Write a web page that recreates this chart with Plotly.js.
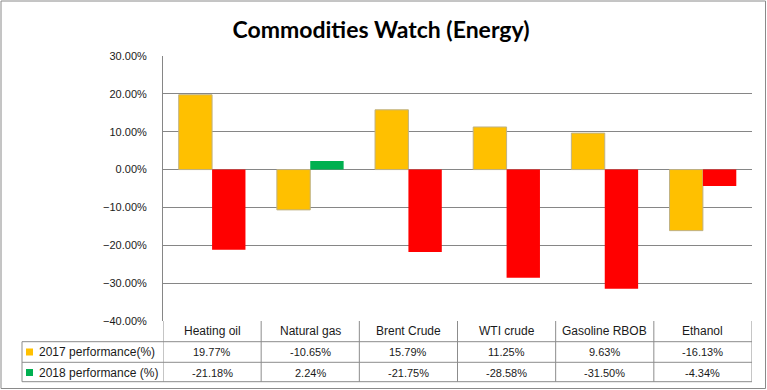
<!DOCTYPE html>
<html>
<head>
<meta charset="utf-8">
<script src="https://cdn.plot.ly/plotly-3.0.1.min.js"></script>
<style>html,body{margin:0;padding:0;background:#fff;}#chart{width:767px;height:390px;}</style>
</head>
<body>
<div id="chart"></div>
<script>
// ---- data ----
var categories = ["Heating oil", "Natural gas", "Brent Crude", "WTI crude", "Gasoline RBOB", "Ethanol"];
var seriesNames = ["2017 performance(%)", "2018 performance (%)"];
var perf2017 = [19.77, -10.65, 15.79, 11.25, 9.63, -16.13];
var perf2018 = [-21.18, 2.24, -21.75, -28.58, -31.50, -4.34];
var yTickVals = [-0.40, -0.30, -0.20, -0.10, 0.00, 0.10, 0.20, 0.30];

// ---- styling ----
var C2017 = "#FFC000", C2017_LINE = "#BFB284";
var C2018_POS = "#00B050", C2018_NEG = "#FF0000";
var GRID = "#868686", TBL = "#8C8C8C", TXT = "#1a1a1a";
var FONT = "Liberation Sans, Arial, sans-serif";

// plot area geometry in px (for table layout in paper coords)
var L = 163, R = 752, T = 56, B = 321, W = 767, H = 390;
var pw = R - L, ph = B - T;
function px2x(p){ return (p - L) / pw; }
function py2y(p){ return (B - p) / ph; }

var y2017 = perf2017.map(function(v){ return v / 100; });
var y2018 = perf2018.map(function(v){ return v / 100; });

var traces = [
  { type: "bar", name: seriesNames[0], x: categories, y: y2017,
    marker: { color: C2017, line: { color: C2017_LINE, width: 1 } }, hoverinfo: "skip" },
  { type: "bar", name: seriesNames[1], x: categories, y: y2018,
    marker: { color: y2018.map(function(v){ return v < 0 ? C2018_NEG : C2018_POS; }), line: { width: 0 } }, hoverinfo: "skip" }
];

var rowTop = [321, 341.7, 362.3, 381.7];
var shapes = [];
var ann = [];
// outer frame
shapes.push({ type: "rect", xref: "paper", yref: "paper", x0: px2x(1), x1: px2x(765.5), y0: py2y(388.5), y1: py2y(1),
  line: { color: "#8a8a8a", width: 1 }, fillcolor: "rgba(0,0,0,0)", layer: "below" });
// horizontal table lines
for (var r = 1; r <= 3; r++) {
  shapes.push({ type: "line", xref: "paper", yref: "paper", x0: px2x(22), x1: 1, y0: py2y(rowTop[r]), y1: py2y(rowTop[r]), line: { color: TBL, width: 1 } });
}
// left column vertical line
shapes.push({ type: "line", xref: "paper", yref: "paper", x0: px2x(22), x1: px2x(22), y0: py2y(rowTop[1]), y1: py2y(rowTop[3]), line: { color: TBL, width: 1 } });
// category column boundaries
for (var i = 0; i <= categories.length; i++) {
  shapes.push({ type: "line", xref: "x", yref: "paper", x0: i - 0.5, x1: i - 0.5, y0: 0, y1: py2y(rowTop[3]), line: { color: TBL, width: 1 } });
}
// legend keys
shapes.push({ type: "rect", xref: "paper", yref: "paper", x0: px2x(26), x1: px2x(33), y0: py2y(355.5), y1: py2y(348.5), fillcolor: C2017, line: { width: 0 } });
shapes.push({ type: "rect", xref: "paper", yref: "paper", x0: px2x(26), x1: px2x(33), y0: py2y(376), y1: py2y(369), fillcolor: C2018_POS, line: { width: 0 } });

var rowMid = [331, 352, 372.5];
categories.forEach(function(c, i){
  ann.push({ xref: "x", yref: "paper", x: i, y: py2y(rowMid[0]), text: c, showarrow: false, xanchor: "center", yanchor: "middle", font: { family: FONT, size: 12, color: TXT } });
  ann.push({ xref: "x", yref: "paper", x: i, y: py2y(rowMid[1]), text: perf2017[i].toFixed(2) + "%", showarrow: false, xanchor: "center", yanchor: "middle", font: { family: FONT, size: 11, color: TXT } });
  ann.push({ xref: "x", yref: "paper", x: i, y: py2y(rowMid[2]), text: perf2018[i].toFixed(2) + "%", showarrow: false, xanchor: "center", yanchor: "middle", font: { family: FONT, size: 11, color: TXT } });
});
ann.push({ xref: "paper", yref: "paper", x: px2x(37), y: py2y(rowMid[1]), text: seriesNames[0], showarrow: false, xanchor: "left", yanchor: "middle", font: { family: FONT, size: 12, color: TXT } });
ann.push({ xref: "paper", yref: "paper", x: px2x(37), y: py2y(rowMid[2]), text: seriesNames[1], showarrow: false, xanchor: "left", yanchor: "middle", font: { family: FONT, size: 12, color: TXT } });

var layout = {
  width: W, height: H,
  margin: { l: L, r: W - R, t: T, b: H - B, pad: 0 },
  paper_bgcolor: "#ffffff", plot_bgcolor: "#ffffff",
  title: { text: "<b>Commodities Watch (Energy)</b>", x: 381 / W, xanchor: "center", xref: "container", yref: "container", y: 1 - 30 / H, yanchor: "middle",
    font: { family: "Lato, sans-serif", size: 23, color: "#000" } },
  showlegend: false,
  barmode: "group", bargap: 0.32, bargroupgap: 0,
  xaxis: { type: "category", range: [-0.5, categories.length - 0.5], showticklabels: false, showgrid: false, zeroline: false, showline: false, ticks: "", fixedrange: true },
  yaxis: { range: [-0.40, 0.30], tickvals: yTickVals, tickformat: ".2%", showgrid: true, gridcolor: GRID, gridwidth: 1,
    zeroline: false, showline: true, linecolor: GRID, linewidth: 1, ticks: "", ticklabelstandoff: 13,
    tickfont: { family: FONT, size: 11, color: TXT }, fixedrange: true },
  shapes: shapes, annotations: ann
};

Plotly.newPlot("chart", traces, layout, { staticPlot: true, displayModeBar: false });
</script>
</body>
</html>
